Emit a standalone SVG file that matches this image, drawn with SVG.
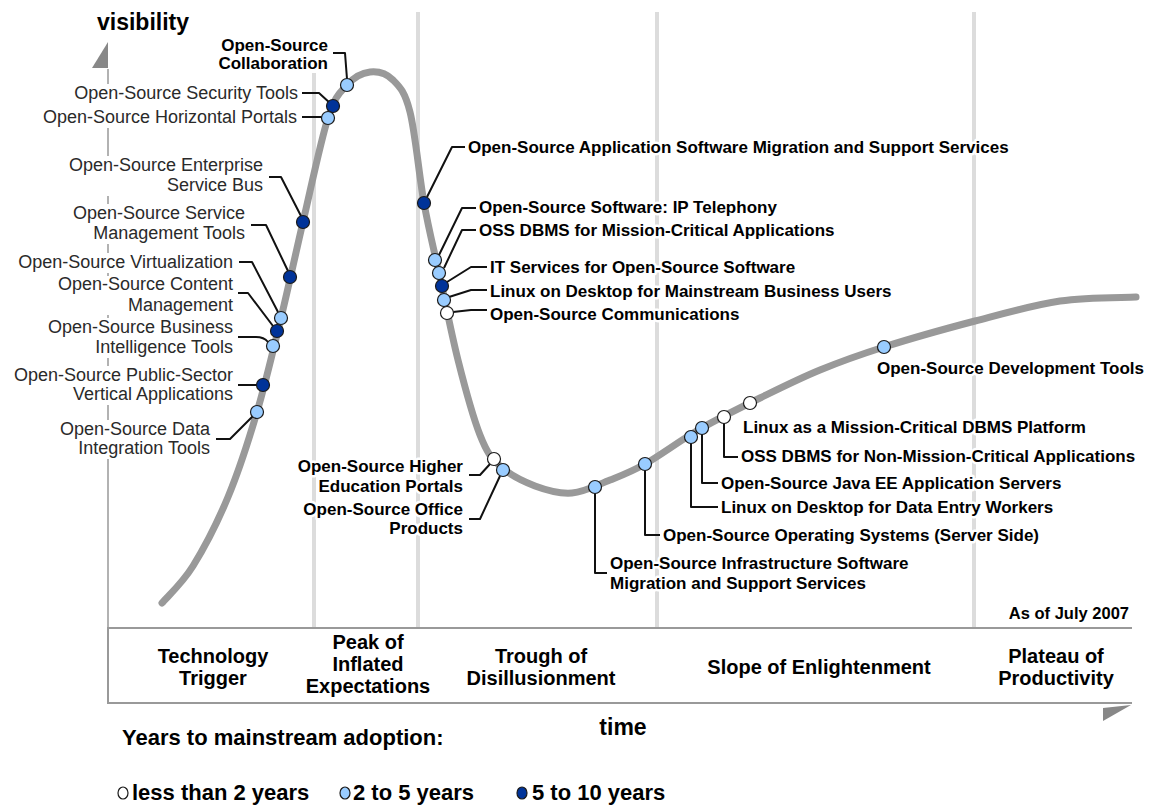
<svg xmlns="http://www.w3.org/2000/svg" width="1157" height="805" viewBox="0 0 1157 805">
<style>
text{font-family:"Liberation Sans",Arial,Helvetica,sans-serif}
.lab{font-size:18px;fill:#2a2a2a;text-anchor:end}
.bl{font-size:17px;font-weight:bold;fill:#000}
.end{text-anchor:end}
.halo{paint-order:stroke;stroke:#fff;stroke-width:5px;stroke-linejoin:round}
.ph{font-size:20px;font-weight:bold;fill:#000;text-anchor:middle}
.big{font-size:23px;font-weight:bold;fill:#000}
.leg{font-size:22px;font-weight:bold;fill:#000}
.conn path{fill:none;stroke:#111;stroke-width:2;stroke-linejoin:round}
.dot{stroke:#1a1a1a;stroke-width:1.2}
.w{fill:#ffffff}
.l{fill:#99ccff}
.d{fill:#003399}
.phase{stroke:#dcdcdc;stroke-width:4}
.axis{stroke:#999;stroke-width:2;fill:none}
</style>
<rect width="1157" height="805" fill="#fff"/>
<g id="phase-lines">
<line class="phase" x1="314" y1="73" x2="314" y2="627"/>
<line class="phase" x1="418" y1="12" x2="418" y2="627"/>
<line class="phase" x1="657" y1="12" x2="657" y2="627"/>
<line class="phase" x1="974" y1="12" x2="974" y2="627"/>
</g>
<g id="axes">
<polygon points="108,42 92,68 108,68" fill="#888"/>
<path d="M108,69V84M108,128V156M108,196V204M108,244V253M108,273V276M108,315V318M108,358V366M108,405V420M108,459V627" stroke="#999" stroke-width="1.5" fill="none"/>
<path class="axis" d="M1132,628H108V703H1132"/>
<polygon points="1103,708 1131,705 1103,721" fill="#888"/>
<text class="big" x="97" y="30">visibility</text>
<text class="big" x="623" y="735" text-anchor="middle">time</text>
<text class="bl end" x="1129" y="619" style="font-size:16.5px">As of July 2007</text>
</g>
<g id="phases">
<text class="ph" x="213" y="663">Technology</text>
<text class="ph" x="213" y="685">Trigger</text>
<text class="ph" x="368" y="649">Peak of</text>
<text class="ph" x="368" y="671">Inflated</text>
<text class="ph" x="368" y="693">Expectations</text>
<text class="ph" x="541" y="663">Trough of</text>
<text class="ph" x="541" y="685">Disillusionment</text>
<text class="ph" x="819" y="674">Slope of Enlightenment</text>
<text class="ph" x="1056" y="663">Plateau of</text>
<text class="ph" x="1056" y="685">Productivity</text>
</g>
<g id="curve">
<path d="M162,603 C167.2,596.8 182,583.7 193,566 C204,548.3 217.3,522.7 228,497 C238.7,471.3 248.2,441.8 257,412 C265.8,382.2 273.3,349.7 281,318 C288.7,286.3 295.2,255.3 303,222 C310.8,188.7 320.7,140.8 328,118 C335.3,95.2 340,92.7 347,85 C354,77.3 362.3,72.8 370,72 C377.7,71.2 386.3,73.3 393,80 C399.7,86.7 404.8,91.5 410,112 C415.2,132.5 419.2,176.2 424,203 C428.8,229.8 433.3,246.8 439,273 C444.7,299.2 451.2,333 458,360 C464.8,387 473,417.3 480,435 C487,452.7 490.8,457.5 500,466 C509.2,474.5 523,481.5 535,486 C547,490.5 559.5,494 572,493 C584.5,492 597.8,484.8 610,480 C622.2,475.2 630,472.5 645,464 C660,455.5 680.8,440 700,429 C719.2,418 740,407.8 760,398 C780,388.2 799.3,378.5 820,370 C840.7,361.5 858.2,355.2 884,347 C909.8,338.8 945.7,328.7 975,321 C1004.3,313.3 1033.2,305 1060,301 C1086.8,297 1123.3,297.7 1136,297" fill="none" stroke="#999" stroke-width="7" stroke-linecap="round"/>
</g>
<g id="connectors" class="conn">
<path d="M302,93H319L331,104"/>
<path d="M302,117H323"/>
<path d="M333,53H345L347,79"/>
<path d="M269,177H281L301,216"/>
<path d="M251,225H266L288,271"/>
<path d="M239,262H252L278,312"/>
<path d="M238,293H248L273,326"/>
<path d="M238,337H256Q264,337 268,342"/>
<path d="M238,385H257"/>
<path d="M216,439H230L253,416"/>
<path d="M469,475H480L490,464"/>
<path d="M469,519H480L500,476"/>
<path d="M595,493V573H607"/>
<path d="M645,470V535H660"/>
<path d="M691,443V507H718"/>
<path d="M702,434V483H718"/>
<path d="M724,423V457H738"/>
<path d="M427,197L452,147H465"/>
<path d="M439,255L462,208H476"/>
<path d="M444,268L462,230H476"/>
<path d="M447,282L471,267H487"/>
<path d="M449,297L471,290H487"/>
<path d="M453,312L471,310H487"/>
</g>
<g id="n-security"><circle class="dot d" cx="333" cy="106" r="6.5"/><text class="lab" x="298" y="99">Open-Source Security Tools</text></g>
<g id="n-horizontal"><circle class="dot l" cx="328" cy="118" r="6.5"/><text class="lab" x="297" y="123">Open-Source Horizontal Portals</text></g>
<g id="n-collab"><circle class="dot l" cx="347" cy="85" r="6.5"/><text class="bl end halo" x="328" y="51">Open-Source</text><text class="bl end halo" x="328" y="69">Collaboration</text></g>
<g id="n-esb"><circle class="dot d" cx="303" cy="222" r="6.5"/><text class="lab" x="263" y="171">Open-Source Enterprise</text><text class="lab" x="263" y="191">Service Bus</text></g>
<g id="n-svcmgmt"><circle class="dot d" cx="290" cy="277" r="6.5"/><text class="lab" x="245" y="219">Open-Source Service</text><text class="lab" x="245" y="239">Management Tools</text></g>
<g id="n-virt"><circle class="dot l" cx="281" cy="318" r="6.5"/><text class="lab" x="233" y="268">Open-Source Virtualization</text></g>
<g id="n-content"><circle class="dot d" cx="277" cy="331" r="6.5"/><text class="lab" x="233" y="290">Open-Source Content</text><text class="lab" x="233" y="311">Management</text></g>
<g id="n-bi"><circle class="dot l" cx="273" cy="346" r="6.5"/><text class="lab" x="233" y="333">Open-Source Business</text><text class="lab" x="233" y="353">Intelligence Tools</text></g>
<g id="n-public"><circle class="dot d" cx="263" cy="385" r="6.5"/><text class="lab" x="233" y="381">Open-Source Public-Sector</text><text class="lab" x="233" y="400">Vertical Applications</text></g>
<g id="n-data"><circle class="dot l" cx="257" cy="412" r="6.5"/><text class="lab" x="210" y="435">Open-Source Data</text><text class="lab" x="210" y="454">Integration Tools</text></g>
<g id="n-higher"><circle class="dot w" cx="494" cy="459" r="6.5"/><text class="bl end halo" x="463" y="472">Open-Source Higher</text><text class="bl end halo" x="463" y="492">Education Portals</text></g>
<g id="n-office"><circle class="dot l" cx="503" cy="470" r="6.5"/><text class="bl end halo" x="463" y="515">Open-Source Office</text><text class="bl end halo" x="463" y="534">Products</text></g>
<g id="n-infra"><circle class="dot l" cx="595" cy="487" r="6.5"/><text class="bl halo" x="610" y="569">Open-Source Infrastructure Software</text><text class="bl halo" x="610" y="589">Migration and Support Services</text></g>
<g id="n-osserver"><circle class="dot l" cx="645" cy="464" r="6.5"/><text class="bl halo" x="663" y="541">Open-Source Operating Systems (Server Side)</text></g>
<g id="n-dataentry"><circle class="dot l" cx="691" cy="437" r="6.5"/><text class="bl halo" x="721" y="513">Linux on Desktop for Data Entry Workers</text></g>
<g id="n-javaee"><circle class="dot l" cx="702" cy="428" r="6.5"/><text class="bl halo" x="721" y="489">Open-Source Java EE Application Servers</text></g>
<g id="n-nonmission"><circle class="dot w" cx="724" cy="417" r="6.5"/><text class="bl halo" x="741" y="462">OSS DBMS for Non-Mission-Critical Applications</text></g>
<g id="n-linuxdbms"><circle class="dot w" cx="750" cy="403" r="6.5"/><text class="bl halo" x="743" y="433">Linux as a Mission-Critical DBMS Platform</text></g>
<g id="n-devtools"><circle class="dot l" cx="884" cy="347" r="6.5"/><text class="bl halo" x="877" y="374">Open-Source Development Tools</text></g>
<g id="n-appmig"><circle class="dot d" cx="424" cy="203" r="6.5"/><text class="bl halo" x="468" y="153">Open-Source Application Software Migration and Support Services</text></g>
<g id="n-iptel"><circle class="dot l" cx="435" cy="260" r="6.5"/><text class="bl halo" x="479" y="213">Open-Source Software: IP Telephony</text></g>
<g id="n-ossmission"><circle class="dot l" cx="439" cy="273" r="6.5"/><text class="bl halo" x="479" y="236">OSS DBMS for Mission-Critical Applications</text></g>
<g id="n-itserv"><circle class="dot d" cx="442" cy="286" r="6.5"/><text class="bl halo" x="490" y="273">IT Services for Open-Source Software</text></g>
<g id="n-linuxmain"><circle class="dot l" cx="444" cy="300" r="6.5"/><text class="bl halo" x="490" y="297">Linux on Desktop for Mainstream Business Users</text></g>
<g id="n-comms"><circle class="dot w" cx="447" cy="313" r="6.5"/><text class="bl halo" x="490" y="320">Open-Source Communications</text></g>
<g id="legend">
<text class="leg" x="122" y="745">Years to mainstream adoption:</text>
<ellipse class="dot w" cx="123" cy="793" rx="5" ry="6"/>
<text class="leg" x="132" y="800">less than 2 years</text>
<ellipse class="dot l" cx="345" cy="793" rx="5" ry="6"/>
<text class="leg" x="353" y="800">2 to 5 years</text>
<ellipse class="dot d" cx="522" cy="793" rx="5" ry="6"/>
<text class="leg" x="532" y="800">5 to 10 years</text>
</g>
</svg>
